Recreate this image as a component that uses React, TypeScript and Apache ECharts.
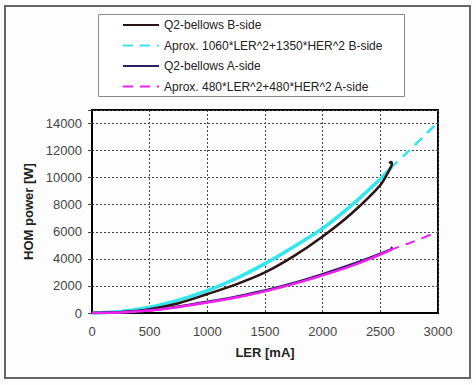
import React, { useEffect, useRef } from 'react';
import * as echarts from 'echarts';

// LER [mA] sample points and HOM power [W]
const bMeasLER = [0, 250, 500, 750, 1000, 1250, 1500, 1750, 2000, 2250, 2500, 2580, 2600, 2595, 2575];
const bMeasW = [0, 60, 280, 720, 1400, 2120, 3000, 4200, 5650, 7350, 9450, 10600, 11000, 11150, 11080];

const bApproxLER = [0, 250, 500, 750, 1000, 1250, 1500, 1750, 2000, 2250, 2500, 2600, 2750, 3000];
const bApproxW = [0, 110, 420, 950, 1650, 2550, 3650, 4900, 6250, 7950, 9900, 10800, 12000, 14100];

const aMeasLER = [0, 250, 500, 750, 1000, 1250, 1500, 1750, 2000, 2250, 2500, 2600, 2590];
const aMeasW = [0, 50, 200, 480, 830, 1210, 1660, 2220, 2870, 3580, 4380, 4800, 4860];

const aApproxLER = [0, 250, 500, 750, 1000, 1250, 1500, 1750, 2000, 2250, 2500, 2600, 2750, 3000];
const aApproxW = [0, 40, 180, 450, 780, 1150, 1600, 2150, 2780, 3480, 4320, 4700, 5150, 6000];

const seriesNames = [
  'Q2-bellows B-side',
  'Aprox. 1060*LER^2+1350*HER^2 B-side',
  'Q2-bellows A-side',
  'Aprox. 480*LER^2+480*HER^2 A-side',
];

const xTicks = { min: 0, max: 3000, interval: 500 };
const yTicks = { min: 0, max: 15000, interval: 2000 };

const measuredEnd = 2600;

const zip = (xs: number[], ys: number[]) => xs.map((x, i) => [x, ys[i]]);

export default function App() {
  const ref = useRef<HTMLDivElement>(null);
  useEffect(() => {
    if (!ref.current) return;
    const chart = echarts.init(ref.current, null, { renderer: 'svg' });
    const font = 'Liberation Sans, Arial, sans-serif';
    const bApprox = zip(bApproxLER, bApproxW);
    const aApprox = zip(aApproxLER, aApproxW);
    chart.setOption({
      animation: false,
      backgroundColor: '#fdfdfd',
      textStyle: { fontFamily: font },
      graphic: [
        {
          type: 'rect',
          z: 0,
          shape: { x: 5, y: 6, width: 465, height: 372 },
          style: { fill: 'none', stroke: '#666', lineWidth: 2 },
        },
        {
          type: 'rect',
          z: 0,
          shape: { x: 98.5, y: 14.5, width: 306, height: 82 },
          style: { fill: '#fff', stroke: '#888', lineWidth: 1 },
        },
      ],
      legend: {
        z: 5,
        orient: 'vertical',
        left: 117,
        top: 13,
        itemWidth: 36,
        itemHeight: 14,
        itemGap: 6.5,
        data: seriesNames,
        itemStyle: { opacity: 0, borderWidth: 0 },
        textStyle: { fontSize: 12, color: '#222', fontFamily: font, lineHeight: 14 },
      },
      grid: {
        left: 92,
        right: 38,
        top: 110,
        bottom: 72,
        show: true,
        borderColor: '#000',
        borderWidth: 2,
        backgroundColor: 'transparent',
      },
      xAxis: {
        type: 'value',
        min: xTicks.min,
        max: xTicks.max,
        interval: xTicks.interval,
        name: 'LER [mA]',
        nameLocation: 'middle',
        nameGap: 33,
        nameTextStyle: { fontSize: 13, fontWeight: 'bold', color: '#222', fontFamily: font },
        axisLine: { show: true, lineStyle: { color: '#000', width: 2 } },
        axisTick: { show: false },
        axisLabel: { fontSize: 13, color: '#444', margin: 12, fontFamily: font, formatter: (v: number) => String(v) },
        splitLine: { show: true, lineStyle: { color: '#444', type: [2, 2], width: 1 } },
      },
      yAxis: {
        type: 'value',
        min: yTicks.min,
        max: yTicks.max,
        interval: yTicks.interval,
        name: 'HOM power [W]',
        nameLocation: 'middle',
        nameGap: 55,
        nameTextStyle: { fontSize: 13, fontWeight: 'bold', color: '#222', fontFamily: font },
        axisLine: { show: true, lineStyle: { color: '#000', width: 2 } },
        axisTick: { show: true, inside: false, length: 4, lineStyle: { color: '#444' } },
        axisLabel: {
          fontSize: 13,
          color: '#444',
          margin: 10,
          fontFamily: font,
          formatter: (v: number) => (v > 14000 ? '' : String(v)),
        },
        splitLine: { show: true, lineStyle: { color: '#444', type: [2, 2], width: 1 } },
      },
      series: [
        {
          name: seriesNames[1] + ' solid',
          type: 'line',
          symbol: 'none',
          smooth: 0.3,
          data: bApprox.filter((p) => p[0] <= measuredEnd),
          lineStyle: { color: '#33e6ee', width: 3.5, type: 'solid' },
          itemStyle: { color: '#33e6ee' },
          z: 2,
        },
        {
          name: seriesNames[0],
          type: 'line',
          symbol: 'none',
          smooth: 0.3,
          data: zip(bMeasLER, bMeasW),
          lineStyle: { color: '#2a1414', width: 2.5 },
          itemStyle: { color: '#3a1212' },
          z: 3,
        },
        {
          name: seriesNames[1],
          type: 'line',
          symbol: 'none',
          smooth: 0.3,
          data: bApprox,
          lineStyle: { color: '#33e6ee', width: 2.5, type: [10, 7] },
          itemStyle: { color: '#33e6ee' },
          z: 2,
        },
        {
          name: seriesNames[2],
          type: 'line',
          symbol: 'none',
          smooth: 0.3,
          data: zip(aMeasLER, aMeasW),
          lineStyle: { color: '#2a2060', width: 2.5 },
          itemStyle: { color: '#2a2060' },
          z: 3,
        },
        {
          name: seriesNames[3] + ' solid',
          type: 'line',
          symbol: 'none',
          smooth: 0.3,
          data: aApprox.filter((p) => p[0] <= measuredEnd),
          lineStyle: { color: '#ee22ee', width: 2.5, type: 'solid' },
          itemStyle: { color: '#ee22ee' },
          z: 4,
        },
        {
          name: seriesNames[3],
          type: 'line',
          symbol: 'none',
          smooth: 0.3,
          data: aApprox,
          lineStyle: { color: '#ee22ee', width: 2, type: [10, 7] },
          itemStyle: { color: '#ee22ee' },
          z: 4,
        },
      ],
    });
    return () => chart.dispose();
  }, []);
  return (
    <div
      ref={ref}
      style={{ position: 'fixed', left: 0, top: 0, width: 476, height: 385 }}
    />
  );
}
